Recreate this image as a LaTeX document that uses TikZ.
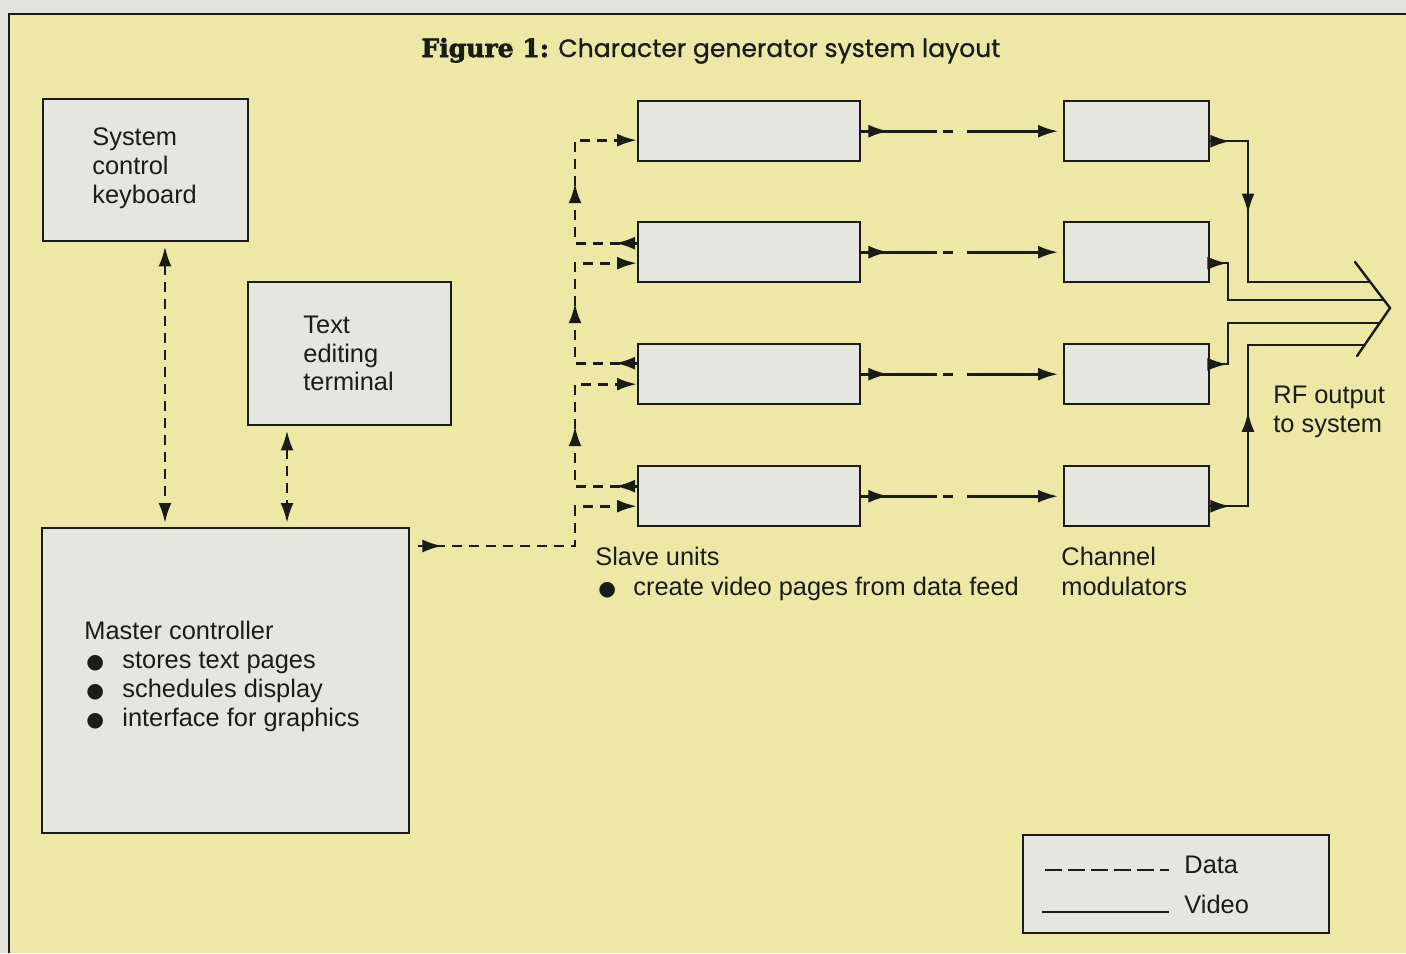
\documentclass[tikz,border=0pt]{standalone}
\usepackage{fontspec}
\setmainfont{Liberation Sans}
\newfontfamily\symf{DejaVu Sans}
\newfontfamily\slabf{DejaVu Serif}[BoldFeatures={FakeBold=2.5}]
\newfontfamily\geof{Poppins}[FakeBold=0.8]
\usetikzlibrary{arrows.meta,decorations.markings,calc}
\definecolor{bggray}{RGB}{226,226,221}
\definecolor{panel}{RGB}{237,232,166}
\definecolor{boxfill}{RGB}{230,230,224}
\definecolor{ink}{RGB}{28,28,22}
\tikzset{
  box/.style={draw=ink, line width=1.2pt, fill=boxfill, inner sep=0pt, anchor=north west},
  data/.style={draw=ink, line width=1.4pt, dash pattern=on 5pt off 3.5pt},
  video/.style={draw=ink, line width=1.2pt},
  vdash/.style={draw=ink, line width=1.3pt, dash pattern=on 38pt off 3pt on 5pt off 7pt},
  lbl/.style={anchor=base west, inner sep=0pt, text=ink},
  mk/.style={postaction=decorate, decoration={markings, mark=at position #1 with {\arrow{>}}}},
  mktwo/.style 2 args={postaction=decorate, decoration={markings, mark=at position #1 with {\arrow{>}}, mark=at position #2 with {\arrow{>}}}},
}
\newcommand{\mybul}[1]{\makebox[19pt][l]{\hspace{#1}\scalebox{0.8}{\symf ●}}}
\begin{document}
\begin{tikzpicture}[x=0.5pt,y=-0.5pt, font=\fontsize{12.7}{14.5}\selectfont, >={Latex[length=10pt,width=6.5pt]}]
\useasboundingbox (0,0) rectangle (1406,953);
\fill[bggray] (0,0) rectangle (1406,953);
\fill[panel] (9,14) rectangle (1406,953);
\draw[ink, line width=1pt] (9,953) -- (9,14) -- (1406,14);

% title
\node[anchor=base west, inner sep=0pt, text=ink] (title) at (421,57)
  {\resizebox{289.5pt}{!}{{\slabf\bfseries Figure 1:} {\geof Character generator system layout}}};

% boxes
\node[box, minimum width=102.5pt, minimum height=71pt] (kb) at (42,98) {};
\node[box, minimum width=101.5pt, minimum height=71.5pt] (term) at (247,281) {};
\node[box, minimum width=183.5pt, minimum height=152.5pt] (master) at (41,527) {};
\foreach \i/\y in {1/100,2/221,3/343,4/465}{
  \node[box, minimum width=111pt, minimum height=30pt] (s\i) at (637,\y) {};
  \node[box, minimum width=72.5pt, minimum height=30pt] (m\i) at (1063,\y) {};
}
\node[box, minimum width=153pt, minimum height=49pt] (legend) at (1022,834) {};

% texts
\node[lbl] (kb1) at (92,145) {System};
\node[lbl] (kb2) at (92,174) {control};
\node[lbl] (kb3) at (92,203) {keyboard};
\node[lbl] (te1) at (303,333) {Text};
\node[lbl] (te2) at (303,362) {editing};
\node[lbl] (te3) at (303,390) {terminal};
\node[lbl] (ma1) at (84,639) {Master controller};
\node[lbl] (ma2) at (84,668) {\mybul{1pt}stores text pages};
\node[lbl] (ma3) at (84,697) {\mybul{1pt}schedules display};
\node[lbl] (ma4) at (84,726) {\mybul{1pt}interface for graphics};
\node[lbl] (sl1) at (595,565) {Slave units};
\node[lbl] (sl2) at (595,595) {\mybul{1.5pt}create video pages from data feed};
\node[lbl] (ch1) at (1061,565) {Channel};
\node[lbl] (ch2) at (1061,595) {modulators};
\node[lbl] (rf1) at (1273,403) {RF output};
\node[lbl] (rf2) at (1273,432) {to system};
\node[lbl] (lg1) at (1184,873) {Data};
\node[lbl] (lg2) at (1184,913) {Video};

% data links keyboard / terminal <-> master
\coordinate (kx) at (165,0);
\coordinate (tx) at (287,0);
\draw[data, <->, shorten <=2pt, shorten >=2pt] (kb.south -| kx) -- (master.north -| kx);
\draw[data, <->, shorten <=2pt, shorten >=2pt] (term.south -| tx) -- (master.north -| tx);

% slave in/out points
\coordinate (s1i) at ([yshift=-4.5pt]s1.west);
\coordinate (s2o) at ([yshift=4.5pt]s2.west);
\coordinate (s2i) at ([yshift=-5.5pt]s2.west);
\coordinate (s3o) at ([yshift=5.5pt]s3.west);
\coordinate (s3i) at ([yshift=-5pt]s3.west);
\coordinate (s4o) at ([yshift=5pt]s4.west);
\coordinate (s4i) at ([yshift=-5pt]s4.west);
\coordinate (bus) at (575,546);

\draw[data, ->, mk=12pt] ($(master.east |- bus)+(8,0)$) -- (bus) -- (bus |- s4i) -- (s4i);
\draw[data, ->, mktwo={11pt}{61pt}] (s4o) -- (bus |- s4o) -- (bus |- s3i) -- (s3i);
\draw[data, ->, mktwo={11pt}{61pt}] (s3o) -- (bus |- s3o) -- (bus |- s2i) -- (s2i);
\draw[data, ->, mktwo={11pt}{61pt}] (s2o) -- (bus |- s2o) -- (bus |- s1i) -- (s1i);

% slave -> modulator
\foreach \i in {1,2,3,4}{
  \draw[vdash, ->, mk=13.5pt, shorten >=2.5pt] (s\i.east) -- (m\i.west);
}

% modulator outputs
\coordinate (m1o) at ([yshift=-5pt]m1.east);
\coordinate (m2o) at ([yshift=-5.5pt]m2.east);
\coordinate (m3o) at ([yshift=5pt]m3.east);
\coordinate (m4o) at ([yshift=-5pt]m4.east);
\coordinate (vx1) at (1248,0);
\coordinate (vx2) at (1228,0);
\coordinate (ch1a) at (1355,262);
\coordinate (chp) at (1390,308);
\coordinate (ch1b) at (1357,356);
\coordinate (r1) at (1370,282);
\coordinate (r2) at (1384,300);
\coordinate (r3) at (1380,323);
\coordinate (r4) at (1365,345);
\draw[video, mktwo={10pt}{55pt}] (m1o) -- (m1o -| vx1) -- (vx1 |- r1) -- (r1);
\draw[video, mk=8.5pt] (m2o) -- (m2o -| vx2) -- (vx2 |- r2) -- (r2);
\draw[video, mk=8.5pt] (m3o) -- (m3o -| vx2) -- (vx2 |- r3) -- (r3);
\draw[video, mktwo={10pt}{66pt}] (m4o) -- (m4o -| vx1) -- (vx1 |- r4) -- (r4);
\draw[video, line cap=round] (ch1a) -- (chp) -- (ch1b);

% legend lines
\coordinate (ld1) at (1045,870);
\coordinate (ld2) at (1169,870);
\coordinate (lv1) at (1042,912);
\coordinate (lv2) at (1169,912);
\draw[ink, line width=1.3pt, dash pattern=on 8.5pt off 3pt] (ld1) -- (ld2);
\draw[video] (lv1) -- (lv2);
\end{tikzpicture}
\end{document}
